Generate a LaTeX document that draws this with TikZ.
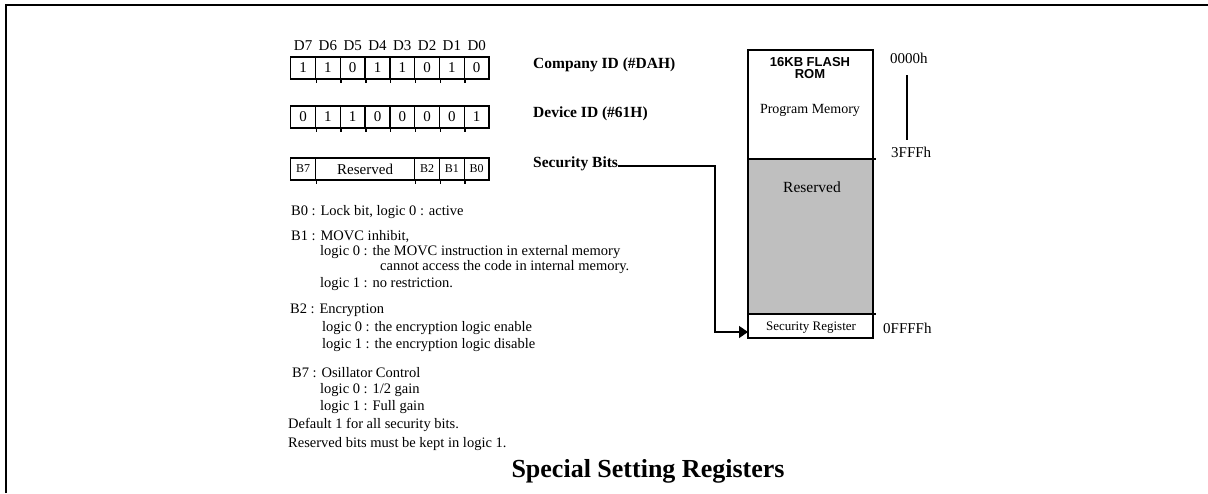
\documentclass[tikz,border=0pt]{standalone}
\usepackage{fontspec}
\setmainfont{Liberation Serif}
\newfontfamily\arialfont{Liberation Sans}
\usetikzlibrary{arrows.meta}
\begin{document}
\begin{tikzpicture}[x=1pt,y=-1pt,
  bitcell/.style={draw, line width=1.4pt, minimum width=24.8pt, minimum height=22pt, inner sep=0pt, font=\fontsize{15}{16}\selectfont},
  smallcell/.style={bitcell, font=\fontsize{12}{13}\selectfont},
  txt/.style={anchor=base west, inner sep=0pt, font=\fontsize{14.5}{15}\selectfont},
  lbl/.style={anchor=base west, inner sep=0pt, font=\bfseries\fontsize{15.5}{17}\selectfont},
  hdr/.style={anchor=base, inner sep=0pt, font=\fontsize{15}{16}\selectfont},
  addr/.style={anchor=base west, inner sep=0pt, font=\fontsize{15}{16}\selectfont},
  memline/.style={line width=1.8pt},
  tick/.style={line width=1.4pt},
]
\useasboundingbox (0,0) rectangle (1208,493);
\draw[line width=2pt] (6,493) coordinate (fb) -- (6,5) coordinate (ft) -- (1208,5) coordinate (fr);

% header labels and bit rows
\foreach \i/\d/\a/\b in {1/7/1/0,2/6/1/1,3/5/0/1,4/4/1/0,5/3/1/0,6/2/0/0,7/1/1/0,8/0/0/1}{
  \node[hdr] (h\i) at ({290.7+24.8*(\i-0.5)},50) {D\d};
  \node[bitcell] (c\i) at ({290.7+24.8*(\i-0.5)},68) {\a};
  \node[bitcell] (d\i) at ({290.7+24.8*(\i-0.5)},117) {\b};
}
\foreach \i in {1,...,7}{
  \draw[tick] (c\i.south east) -- ++(0,3);
  \draw[tick] (d\i.south east) -- ++(0,3);
}
% security bits row
\node[smallcell] (s7) at ({290.7+24.8*0.5},169) {B7};
\node[bitcell, minimum width=99.2pt] (sres) at ({290.7+24.8*3},169) {Reserved};
\node[smallcell] (s2) at ({290.7+24.8*5.5},169) {B2};
\node[smallcell] (s1) at ({290.7+24.8*6.5},169) {B1};
\node[smallcell] (s0) at ({290.7+24.8*7.5},169) {B0};
\foreach \n in {s7,sres,s2,s1}{\draw[tick] (\n.south east) -- ++(0,3);}

% row labels
\node[lbl] (cid) at (533,68) {Company ID (\#DAH)};
\node[lbl] (did) at (533,117) {Device ID (\#61H)};
\node[lbl] (sb) at (533,167) {Security Bits};

% description text
\node[txt] (t1) at (291,215) {B0 : Lock bit, logic 0 : active};
\node[txt] (t2) at (291,240) {B1 : MOVC inhibit,};
\node[txt] (t3) at (320,255) {logic 0 : the MOVC instruction in external memory};
\node[txt] (t4) at (380,270) {cannot access the code in internal memory.};
\node[txt] (t5) at (320,287) {logic 1 : no restriction.};
\node[txt] (t6) at (290,313) {B2 : Encryption};
\node[txt] (t7) at (322,331) {logic 0 : the encryption logic enable};
\node[txt] (t8) at (322,348) {logic 1 : the encryption logic disable};
\node[txt] (t9) at (292,377) {B7 : Osillator Control};
\node[txt] (t10) at (320,393) {logic 0 : 1/2 gain};
\node[txt] (t11) at (320,410) {logic 1 : Full gain};
\node[txt] (t12) at (288,428) {Default 1 for all security bits.};
\node[txt] (t13) at (288,447) {Reserved bits must be kept in logic 1.};
\node[anchor=base, inner sep=0pt, font=\bfseries\fontsize{26}{28}\selectfont] (title) at (648,477) {Special Setting Registers};

% memory map
\fill[black!25] (748,159) rectangle (873,314);
\node[draw, memline, minimum width=125pt, minimum height=288pt, inner sep=0pt] (mem) at (810.5,194) {};
\draw[memline] (748,159) coordinate (m1l) -- (876,159) coordinate (m1r);
\draw[line width=2.6pt] (748,314) coordinate (m2l) -- (876,314) coordinate (m2r);
\node[anchor=base, inner sep=0pt, align=center, font=\arialfont\bfseries\fontsize{13}{12}\selectfont] (rom) at (810,78) {16KB FLASH\\ROM};
\node[anchor=base, inner sep=0pt, font=\fontsize{14}{15}\selectfont] (pm) at (810,113) {Program Memory};
\node[anchor=base, inner sep=0pt, font=\fontsize{15.5}{16}\selectfont] (rv) at (812,192) {Reserved};
\node[anchor=base, inner sep=0pt, font=\fontsize{13}{14}\selectfont] (sr) at (811,330) {Security Register};

% addresses
\node[addr] (a0) at (890,63) {0000h};
\node[addr] (a1) at (891,157) {3FFFh};
\node[addr] (a2) at (883,333) {0FFFFh};
\draw[line width=1.8pt] (907,75) coordinate (v1) -- (907,140) coordinate (v2);

% connector
\coordinate (bend1) at (715,166);
\coordinate (tip) at (748,332);
\draw[line width=1.4pt, -{Triangle[length=9pt,width=12pt]}] (sb.east |- bend1) -- (bend1) -- (bend1 |- tip) -- (tip);
\end{tikzpicture}
\end{document}
